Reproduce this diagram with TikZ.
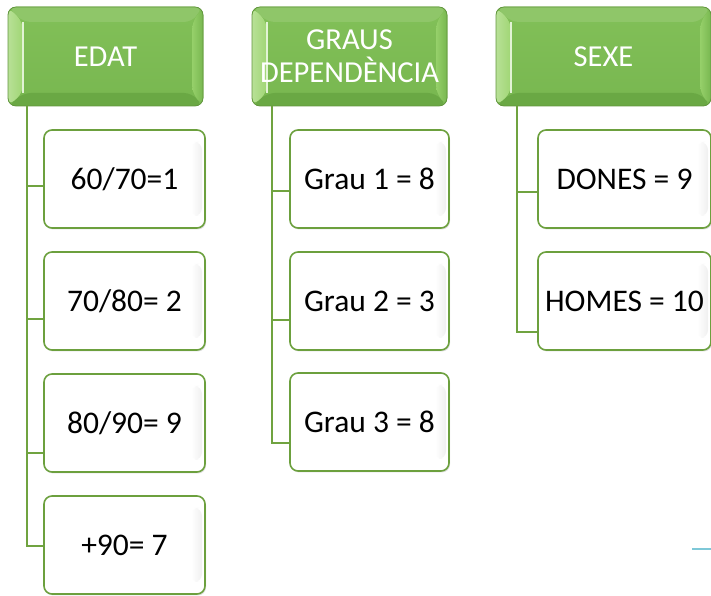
\documentclass[tikz,border=0pt]{standalone}
\usepackage{fontspec}
\setmainfont{Carlito}
\usetikzlibrary{calc,shadows}
\definecolor{hdrface}{RGB}{120,183,80}
\definecolor{hdrtop}{RGB}{130,192,88}
\definecolor{hdrleft}{RGB}{160,214,116}
\definecolor{hdrright}{RGB}{150,208,106}
\definecolor{hdrbot}{RGB}{106,168,68}
\definecolor{hdrrim}{RGB}{98,150,62}
\definecolor{boxgreen}{RGB}{108,160,62}
\definecolor{linegreen}{RGB}{112,163,64}
\definecolor{strayblue}{RGB}{126,200,216}
\tikzset{
  hdr/.style={rounded corners=8pt, minimum height=99pt, inner sep=0pt,
    text=white, font=\fontsize{30.5}{33}\selectfont, align=center,
    fill=hdrface, draw=hdrrim, line width=0.8pt,
    path picture={
      \path (path picture bounding box.north west) coordinate (PA)
            (path picture bounding box.south east) coordinate (PB);
      \fill[top color=hdrtop, bottom color=hdrface] (PA) rectangle (PB);
      \fill[hdrtop!90!white] (PA) -- (PA-|PB) -- ($(PA-|PB)+(-11,-15)$) -- ($(PA)+(15,-15)$) -- cycle;
      \fill[hdrbot] (PA|-PB) -- (PB) -- ($(PB)+(-11,13)$) -- ($(PA|-PB)+(15,13)$) -- cycle;
      \fill[left color=hdrleft!75!white, right color=hdrleft] (PA) -- (PA|-PB) -- ($(PA|-PB)+(15,13)$) -- ($(PA)+(15,-15)$) -- cycle;
      \fill[left color=hdrright, right color=hdrface] (PA-|PB) -- (PB) -- ($(PB)+(-11,13)$) -- ($(PA-|PB)+(-11,-15)$) -- cycle;
      \draw[white!70!hdrleft, line width=1.2pt] ($(PA)+(15,-15)$) -- ($(PA|-PB)+(15,13)$);
    }},
  child/.style={rounded corners=8pt, minimum height=98pt, inner sep=0pt,
    font=\fontsize{31.5}{36}\selectfont, fill=white, draw=boxgreen,
    line width=1.6pt, drop shadow={opacity=0.25, shadow xshift=1pt, shadow yshift=-1.5pt},
    path picture={
      \path (path picture bounding box.north west) coordinate (PA)
            (path picture bounding box.south east) coordinate (PB);
      \fill[left color=white, right color=black!6] ($(PA-|PB)+(-14,-12)$) rectangle ($(PB)+(-3,12)$);
    }},
  conn/.style={draw=linegreen, line width=2.2pt}
}
\begin{document}
\begin{tikzpicture}[x=1pt,y=1pt]
\useasboundingbox (0,0) rectangle (711,596);
% headers
\node[hdr, minimum width=195pt] (edat) at (105.5,539.5) {EDAT};
\node[hdr, minimum width=195pt] (graus) at (349.5,539.5) {GRAUS\\DEPENDÈNCIA};
\node[hdr, minimum width=215pt] (sexe) at (603.5,539.5) {SEXE};
% EDAT children
\node[child, minimum width=161pt] (e1) at (124.5,417) {60/70=1};
\node[child, minimum width=161pt] (e2) at (124.5,295) {70/80= 2};
\node[child, minimum width=161pt] (e3) at (124.5,173) {80/90= 9};
\node[child, minimum width=161pt] (e4) at (124.5,51) {+90= 7};
% GRAUS children
\node[child, minimum width=159pt] (g1) at (369.5,417) {Grau 1 = 8};
\node[child, minimum width=159pt] (g2) at (369.5,295) {Grau 2 = 3};
\node[child, minimum width=159pt] (g3) at (369.5,174) {Grau 3 = 8};
% SEXE children
\node[child, minimum width=173pt] (s1) at (624.5,417) {DONES = 9};
\node[child, minimum width=173pt] (s2) at (624.5,295) {HOMES = 10};
% connector stems
\coordinate (ev) at ([xshift=19pt]edat.south west);
\coordinate (gv) at ([xshift=20pt]graus.south west);
\coordinate (sv) at ([xshift=21pt]sexe.south west);
\draw[conn] (ev) |- ([yshift=-7pt]e1.west);
\draw[conn] (ev) |- ([yshift=-18pt]e2.west);
\draw[conn] (ev) |- ([yshift=-30pt]e3.west);
\draw[conn] (ev) |- ([yshift=-1pt]e4.west);
\draw[conn] (gv) |- ([yshift=-12pt]g1.west);
\draw[conn] (gv) |- ([yshift=-19pt]g2.west);
\draw[conn] (gv) |- ([yshift=-21pt]g3.west);
\draw[conn] (sv) |- ([yshift=-13pt]s1.west);
\draw[conn] (sv) |- ([yshift=-31pt]s2.west);
% stray mark
\draw[strayblue, line width=2pt] (692,47) -- (711,47);
\end{tikzpicture}
\end{document}
